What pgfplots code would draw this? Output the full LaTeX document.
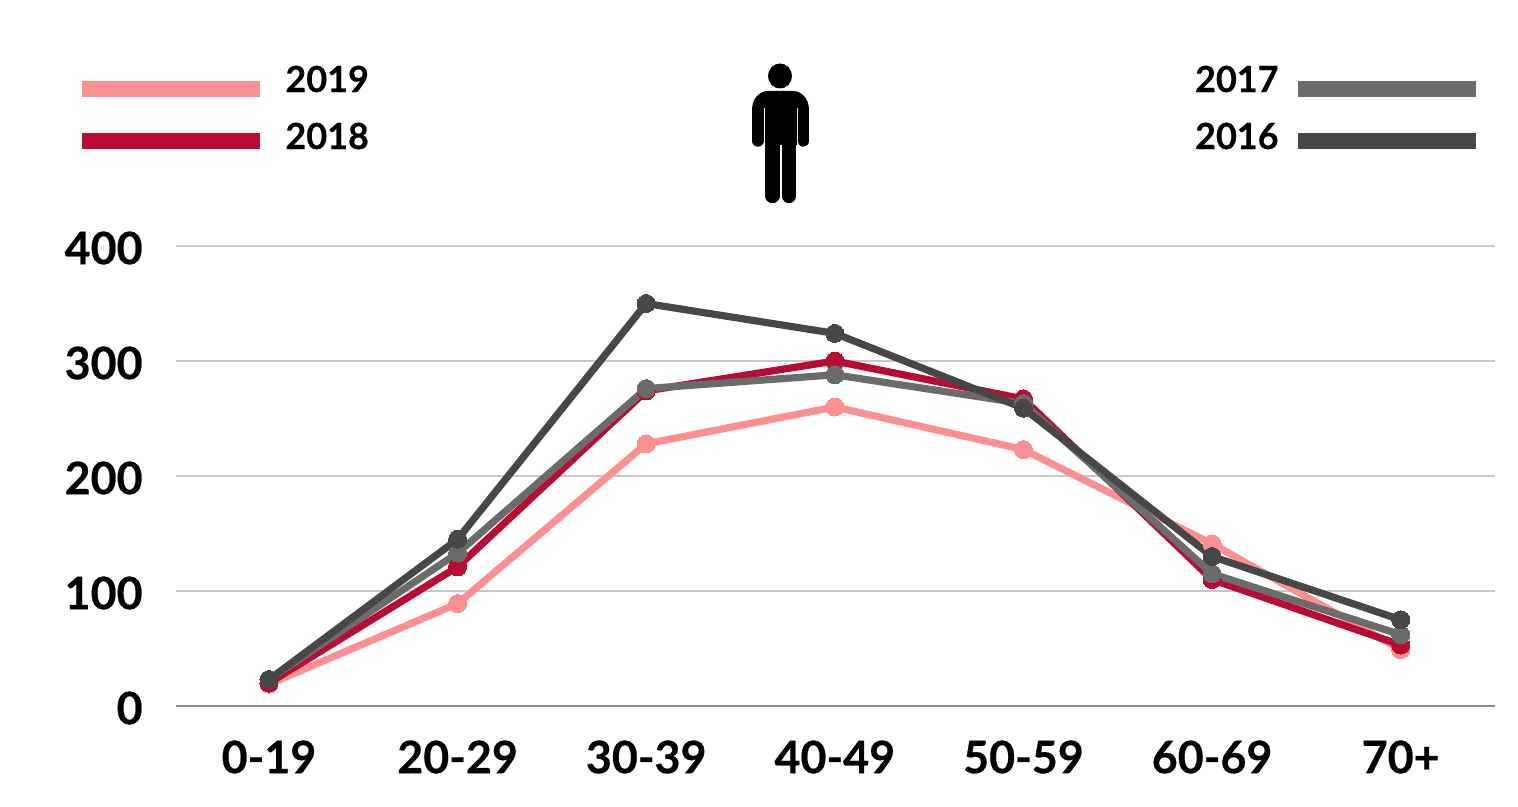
\documentclass[border=0pt]{standalone}
\usepackage{fontspec}
\setmainfont{Lato}[BoldFont={Lato Bold},BoldFeatures={FakeBold=0.5}]
\usepackage{pgfplots}
\pgfplotsset{compat=1.18}
\definecolor{cA}{HTML}{FC8F90}
\definecolor{cB}{HTML}{B80C33}
\definecolor{cC}{HTML}{6B6B6B}
\definecolor{cD}{HTML}{474747}
\definecolor{gridc}{HTML}{C8C8C8}
\definecolor{basec}{HTML}{8C8C8C}
\begin{document}
\begin{tikzpicture}[x=0.5pt,y=-0.5pt]
\useasboundingbox (0,0) rectangle (1518,807);
\begin{axis}[
  at={(88pt,-353pt)}, anchor=south west,
  scale only axis, width=659.5pt, height=230pt,
  xmin=-0.493, xmax=6.5, ymin=0, ymax=400,
  clip=false,
  axis x line=bottom, axis y line=left,
  axis line style={-},
  x axis line style={draw=basec, line width=1pt},
  y axis line style={draw=none},
  ymajorgrids, grid style={draw=gridc, line width=1pt},
  major tick length=0pt,
  xtick={0,1,2,3,4,5,6},
  xticklabels={0-19,20-29,30-39,40-49,50-59,60-69,70+},
  ytick={0,100,200,300,400},
  /pgf/number format/assume math mode=true,
  tick label style={font=\fontsize{22.4}{26}\selectfont\bfseries, text=black},
  yticklabel style={anchor=east, inner sep=0pt, xshift=-16.5pt, yshift=-1pt},
  xticklabel style={anchor=center, inner sep=0pt, yshift=-25.5pt},
  every axis plot/.style={line width=3.6pt, mark=*, mark size=4.5pt, line join=round},
]
\addplot[color=cA, mark options={fill=cA, draw=cA, line width=0pt}] coordinates {(0,19)(1,89)(2,228)(3,260)(4,223)(5,141)(6,49)};
\addplot[color=cB, mark options={fill=cB, draw=cB, line width=0pt}] coordinates {(0,20)(1,121)(2,274)(3,300)(4,267)(5,110)(6,53)};
\addplot[color=cC, mark options={fill=cC, draw=cC, line width=0pt}] coordinates {(0,23)(1,133)(2,276)(3,288)(4,263)(5,115)(6,62)};
\addplot[color=cD, mark options={fill=cD, draw=cD, line width=0pt}] coordinates {(0,23)(1,145)(2,350)(3,324)(4,259)(5,130)(6,75)};
\end{axis}
% legend keys
\fill[cA] (82,81) rectangle (260,97);
\fill[cB] (82,133) rectangle (260,149);
\fill[cC] (1298,81) rectangle (1476,97);
\fill[cD] (1298,133) rectangle (1476,149);
\tikzset{lg/.style={inner sep=0pt, font=\fontsize{18}{22}\selectfont\bfseries, text=black}}
\node[lg, anchor=west] at (285,79) {2019};
\node[lg, anchor=west] at (285,136) {2018};
\node[lg, anchor=east] at (1279,79) {2017};
\node[lg, anchor=east] at (1279,136) {2016};
% person icon
\fill[black] (780,76) ellipse [x radius=12, y radius=12.5];
\fill[black] (752,110) .. controls (752,98) and (760,91) .. (768,91) -- (793,91) .. controls (801,91) and (809,98) .. (809,110) -- (797,108) -- (797,145) -- (765,145) -- (765,108) -- cycle;
\draw[black, line width=5.75pt, line cap=round] (757.75,110) -- (757.75,141);
\draw[black, line width=5.75pt, line cap=round] (803.25,110) -- (803.25,141);
\draw[black, line width=7.2pt, line cap=round] (772.5,145) -- (772.5,196);
\draw[black, line width=7.2pt, line cap=round] (789,145) -- (789,196);
\end{tikzpicture}
\end{document}
